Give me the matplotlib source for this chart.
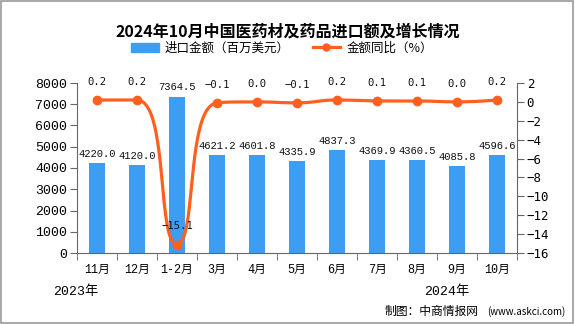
import numpy as np
import matplotlib
matplotlib.use("Agg")
import matplotlib.pyplot as plt
from matplotlib.patches import Rectangle
from matplotlib.lines import Line2D

plt.rcParams['font.family'] = ['Noto Sans CJK SC', 'DejaVu Sans']
MIXED = ['Liberation Mono', 'Noto Sans CJK SC']

months = ['11月', '12月', '1-2月', '3月', '4月', '5月', '6月', '7月', '8月', '9月', '10月']
amount = [4220.0, 4120.0, 7364.5, 4621.2, 4601.8, 4335.9, 4837.3, 4369.9, 4360.5, 4085.8, 4596.6]
growth = [0.2, 0.2, -15.1, -0.1, 0.0, -0.1, 0.2, 0.1, 0.1, 0.0, 0.2]

bar_color = '#3D9DF0'
line_color = '#FF5F1F'


def smooth_path(xs, ys, sx=40.0, sy=9.44, smooth=0.5, n=40):
    # bezier smoothing with control points kept inside neighbouring extents
    px = np.asarray(xs, float) * sx
    py = np.asarray(ys, float) * sy
    cps = []
    cp0 = (px[0], py[0])
    for i in range(1, len(px)):
        x, y = px[i], py[i]
        prx, pry = px[i - 1], py[i - 1]
        if i == len(px) - 1:
            cp1 = (x, y)
            nxt = None
        else:
            nx, ny = px[i + 1], py[i + 1]
            vx, vy = nx - prx, ny - pry
            lp = np.hypot(x - prx, y - pry)
            ln = np.hypot(nx - x, ny - y)
            r = ln / (ln + lp)
            ncx = x + vx * smooth * r
            ncy = y + vy * smooth * r
            ncx = max(min(ncx, max(nx, x)), min(nx, x))
            ncy = max(min(ncy, max(ny, y)), min(ny, y))
            vx, vy = ncx - x, ncy - y
            c1x = x - vx * lp / ln
            c1y = y - vy * lp / ln
            c1x = max(min(c1x, max(prx, x)), min(prx, x))
            c1y = max(min(c1y, max(pry, y)), min(pry, y))
            vx, vy = x - c1x, y - c1y
            nxt = (x + vx * ln / lp, y + vy * ln / lp)
            cp1 = (c1x, c1y)
        cps.append(((prx, pry), cp0, cp1, (x, y)))
        cp0 = nxt
    t = np.linspace(0, 1, n)[:, None]
    pts = []
    for p0, c0, c1, p1 in cps:
        p0, c0, c1, p1 = map(np.array, (p0, c0, c1, p1))
        seg = ((1 - t) ** 3) * p0 + 3 * ((1 - t) ** 2) * t * c0 + 3 * (1 - t) * t ** 2 * c1 + t ** 3 * p1
        pts.append(seg)
    pts = np.vstack(pts)
    return pts[:, 0] / sx, pts[:, 1] / sy


fig = plt.figure(figsize=(5.75, 3.24), dpi=100)
fig.patches.append(Rectangle((0.002, 0.004), 0.995, 0.992, transform=fig.transFigure,
                             fill=False, edgecolor='#9a9a9a', linewidth=1.2))

ax = fig.add_axes([77 / 575, 71 / 324, 440 / 575, 170 / 324])
x = np.arange(len(months))
ax.bar(x, amount, width=0.42, color=bar_color, zorder=2)
for xi, v in zip(x, amount):
    ax.annotate(f'{v:.1f}', (xi, v), xytext=(0, 3), textcoords='offset points',
                ha='center', va='bottom', fontsize=7.6, family=MIXED, color='#111111')

ax.set_xlim(-0.5, len(months) - 0.5)
ax.set_ylim(0, 8000)
ax.set_yticks(range(0, 8001, 1000))
ax.set_xticks(x)
ax.set_xticklabels(months, fontsize=8.5, family=MIXED)
ax.set_xticks(np.arange(-0.5, len(months), 1), minor=True)
ax.tick_params(axis='x', which='major', length=0, pad=8)
ax.tick_params(axis='x', which='minor', length=5, color='#666666')
ax.tick_params(axis='y', length=5, color='#666666', pad=2)
for lab in ax.get_yticklabels():
    lab.set_family(MIXED)
    lab.set_fontsize(9.5)
for s in ['top', 'right']:
    ax.spines[s].set_visible(False)
for s in ['left', 'bottom']:
    ax.spines[s].set_color('#666666')

ax2 = ax.twinx()
ax2.set_ylim(-16, 2)
ax2.set_yticks(range(-16, 3, 2))
ax2.set_yticklabels([str(v).replace('-', '\u2212') for v in range(-16, 3, 2)],
                    family=['DejaVu Sans Mono'], fontsize=9)
ax2.tick_params(axis='y', length=5, color='#666666', pad=2)
for s in ['top', 'left', 'bottom']:
    ax2.spines[s].set_visible(False)
ax2.spines['right'].set_color('#666666')

lx, ly = smooth_path(x, growth)
ax2.plot(lx, ly, color=line_color, linewidth=2.3, zorder=3)
ax2.plot(x, growth, 'o', color=line_color, markersize=6, zorder=4)
for xi, v in zip(x, growth):
    ax2.annotate(f'{v:.1f}'.replace('-', '\u2212'), (xi, v), xytext=(0, 13),
                 textcoords='offset points', ha='center', va='center',
                 fontsize=7.6, family=['DejaVu Sans Mono'], color='#111111')

fig.text(288 / 575, 1 - 32 / 324, '2024年10月中国医药材及药品进口额及增长情况',
         ha='center', va='center', fontsize=11.5, fontweight='bold')

handles = [Rectangle((0, 0), 1, 1, color=bar_color),
           Line2D([0], [0], color=line_color, linewidth=2.3, marker='o', markersize=5)]
fig.legend(handles, ['进口金额（百万美元）', '金额同比（%）'], loc='center',
           bbox_to_anchor=(282 / 575, 1 - 48 / 324), ncol=2, frameon=False,
           fontsize=9, handlelength=2.2, handleheight=0.7, columnspacing=1.8,
           handletextpad=0.5)

fig.text(76 / 575, 1 - 292 / 324, '2023年', ha='center', va='center', fontsize=9.5, family=MIXED)
fig.text(447 / 575, 1 - 292 / 324, '2024年', ha='center', va='center', fontsize=9.5, family=MIXED)
fig.text(385 / 575, 1 - 311 / 324, '制图：中商情报网', ha='left', va='center', fontsize=8.5)
fig.text(565 / 575, 1 - 312 / 324, '(www.askci.com)', ha='right', va='center', fontsize=7)

fig.savefig('out.png', dpi=100)
